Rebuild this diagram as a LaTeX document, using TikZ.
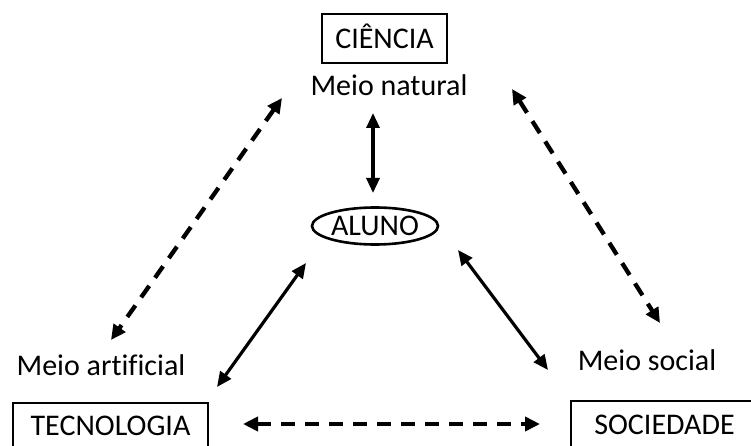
\documentclass[tikz,border=0pt]{standalone}
\usepackage{fontspec}
\setmainfont{Carlito}[Ligatures={NoCommon}]
\usetikzlibrary{arrows.meta,shapes.geometric}
\begin{document}
\begin{tikzpicture}[x=1pt,y=-1pt,
  lbl/.style={font=\fontsize{30}{36}\selectfont, inner sep=0pt},
  boxn/.style={draw, line width=2.9pt, font=\fontsize{30}{36}\selectfont, text height=19.3pt, text depth=0pt, inner sep=0pt},
  sarr/.style={line width=3.2pt, {Triangle[length=15pt,width=13pt]}-{Triangle[length=15pt,width=13pt]}},
  darr/.style={line width=4.3pt, dash pattern=on 14pt off 10pt, {Triangle[length=15pt,width=14pt]}-{Triangle[length=15pt,width=14pt]}}
]
\useasboundingbox (0,0) rectangle (751,446);
\clip (0,0) rectangle (751,446);
\fill[white] (0,0) rectangle (751,446);

% nodes
\node[boxn, minimum width=125pt, minimum height=49pt] (cien) at (384.5,38.5) {CIÊNCIA};
\node[lbl, anchor=base] (nat) at (389,96) {Meio natural};
\node[draw, ellipse, line width=2.6pt, minimum width=126pt, minimum height=37pt, inner sep=0pt,
      font=\fontsize{30}{36}\selectfont, text height=19.3pt, text depth=0pt] (aluno) at (375,226) {ALUNO};
\node[lbl, anchor=base] (art) at (101,375) {Meio artificial};
\node[lbl, anchor=base] (soc) at (647,370) {Meio social};
\node[boxn, minimum width=195pt, minimum height=46pt] (tec) at (110.5,426) {TECNOLOGIA};
\node[boxn, minimum width=187pt, minimum height=47pt] (socd) at (664.5,424.5) {SOCIEDADE};

% arrow end points
\coordinate (v1) at (373,113);
\coordinate (v2) at (373,193);
\coordinate (ls1) at (306,263);
\coordinate (ls2) at (217,387);
\coordinate (rs1) at (458,250);
\coordinate (rs2) at (548,370);
\coordinate (ld1) at (282,98);
\coordinate (ld2) at (111,340);
\coordinate (rd1) at (512,89);
\coordinate (rd2) at (660,323);
\coordinate (bd1) at (243,424);
\coordinate (bd2) at (540,424);

% connectors
\draw[sarr] (v1) -- (v2);
\draw[sarr] (ls1) -- (ls2);
\draw[sarr] (rs1) -- (rs2);
\draw[darr] (ld1) -- (ld2);
\draw[darr] (rd1) -- (rd2);
\draw[darr] (bd1) -- (bd2);
\end{tikzpicture}
\end{document}
